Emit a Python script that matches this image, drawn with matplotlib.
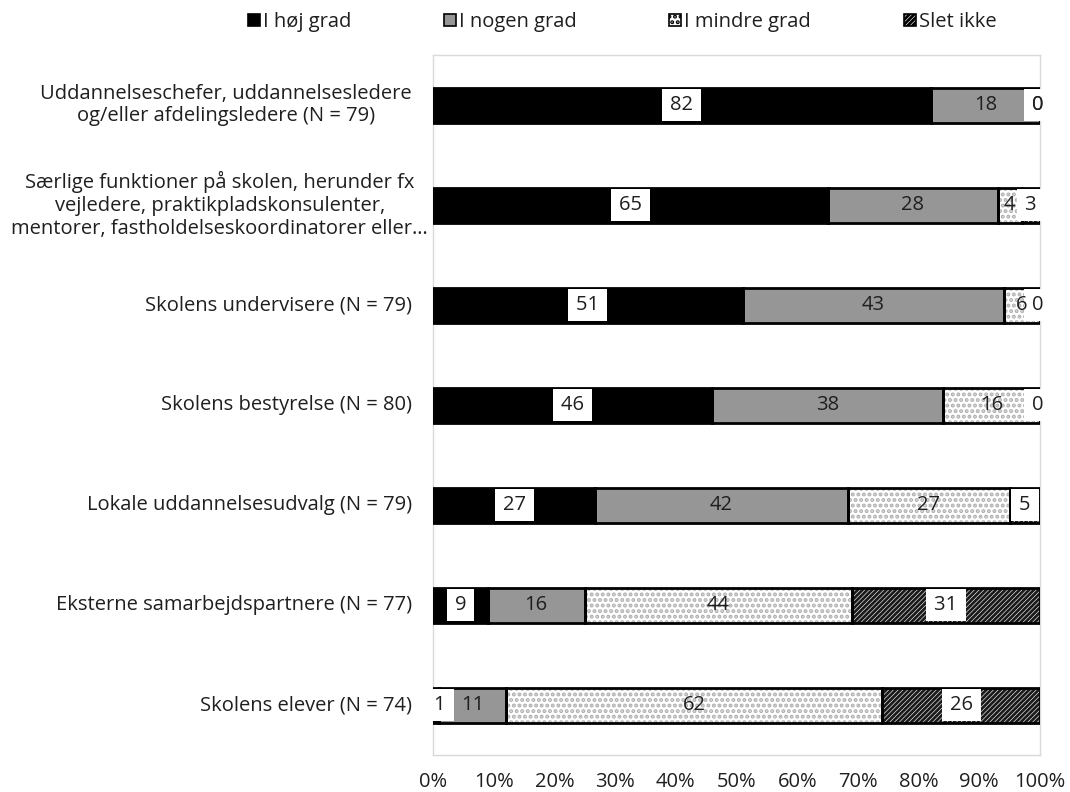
import numpy as np
import matplotlib
matplotlib.use('Agg')
import matplotlib.pyplot as plt
from matplotlib.patches import Patch
from matplotlib.ticker import FuncFormatter

plt.rcParams['font.family'] = ['Open Sans', 'DejaVu Sans']
plt.rcParams['hatch.linewidth'] = 2.0

CATEGORIES = [
    "Uddannelseschefer, uddannelsesledere\nog/eller afdelingsledere (N = 79)",
    "Særlige funktioner på skolen, herunder fx\nvejledere, praktikpladskonsulenter,\nmentorer, fastholdelseskoordinatorer eller…",
    "Skolens undervisere (N = 79)",
    "Skolens bestyrelse (N = 80)",
    "Lokale uddannelsesudvalg (N = 79)",
    "Eksterne samarbejdspartnere (N = 77)",
    "Skolens elever (N = 74)",
]
SERIES = ["I høj grad", "I nogen grad", "I mindre grad", "Slet ikke"]

hoej    = [82, 65, 51, 46, 27,  9,  1]
nogen   = [18, 28, 43, 38, 42, 16, 11]
mindre  = [ 0,  4,  6, 16, 27, 44, 62]
slet    = [ 0,  3,  0,  0,  5, 31, 26]

FACES   = ["black", "#969696", "white", "white"]
HATCHES = [None, None, "...", "///////"]
HCOLORS = ["black", "#969696", "#b0b0b0", "#1a1a1a"]
BOXED   = [True, False, False, True]     # white label background on dark fills
TXT = "#1f1f1f"
FS = 14.5
HAIR = "\u200a"

values = np.array([hoej, nogen, mindre, slet], dtype=float)
shares = values / values.sum(axis=0)      # 100 % stacked
y = np.arange(len(CATEGORIES))

fig = plt.figure(figsize=(10.7, 7.92), dpi=100)
ax = fig.add_axes([433 / 1070, 37 / 792, 607 / 1070, 700 / 792])

bar_h = 0.35
left = np.zeros(len(CATEGORIES))
for k in range(4):
    w = shares[k]
    ax.barh(y, w, left=left, height=bar_h, color=FACES[k], hatch=HATCHES[k],
            edgecolor=HCOLORS[k], linewidth=0, zorder=2)
    ax.barh(y, w, left=left, height=bar_h, fill=False,
            edgecolor="black", linewidth=2.0, zorder=3)
    for i in range(len(CATEGORIES)):
        cx = left[i] + w[i] / 2
        cx = min(max(cx, 0.012), 0.996)
        lab = f"{int(values[k, i])}"
        if BOXED[k]:
            ax.text(cx, y[i], HAIR + lab + HAIR, ha="center", va="center",
                    fontsize=FS, color=TXT, zorder=5,
                    bbox=dict(boxstyle="square,pad=0.3", fc="white", ec="none"))
        else:
            ax.text(cx, y[i], lab, ha="center", va="center",
                    fontsize=FS, color=TXT, zorder=6)
    left += w

ax.set_xlim(0, 1)
ax.set_ylim(len(CATEGORIES) - 0.5, -0.5)
ax.set_xticks(np.linspace(0, 1, 11))
ax.xaxis.set_major_formatter(FuncFormatter(lambda v, p: f"{v * 100:.0f}%"))
ax.tick_params(axis="x", length=0, pad=12, labelsize=FS, labelcolor=TXT)
ax.set_yticks(y)
ax.set_yticklabels([])
ax.tick_params(axis="y", length=0)
for s in ax.spines.values():
    s.set_color("#d9d9d9")
    s.set_linewidth(1)

# category labels, centred lines, right-aligned against the plot
for i, lab in enumerate(CATEGORIES):
    off = -0.035 if i != 1 else -0.008
    ax.text(off, y[i], lab, ha="right", va="center", multialignment="center",
            fontsize=FS, color=TXT, transform=ax.get_yaxis_transform(),
            linespacing=1.2)

handles = [Patch(facecolor=FACES[k], hatch=HATCHES[k], edgecolor="black",
                 linewidth=1.2, label=SERIES[k]) for k in range(4)]
fig.legend(handles=handles, loc="center", ncol=4, frameon=False,
           bbox_to_anchor=(622 / 1070, 1 - 22 / 792), fontsize=FS,
           handlelength=0.6, handleheight=0.6, handletextpad=0.15,
           columnspacing=4.6, labelcolor=TXT)

fig.savefig("out.png", dpi=100)
